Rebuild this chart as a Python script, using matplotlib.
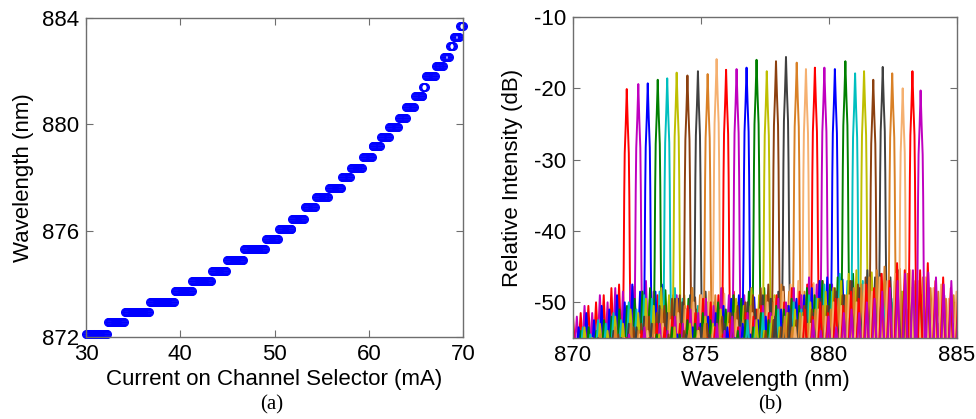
import numpy as np
import matplotlib
matplotlib.use('Agg')
import matplotlib.pyplot as plt

plt.rcParams['font.family'] = ['Liberation Sans', 'DejaVu Sans']
plt.rcParams['axes.unicode_minus'] = False

# ---- (a) channel selector tuning: plateau start current (mA) and wavelength (nm)
step_start_ma = [30.0, 32.3, 34.1, 36.8, 39.4, 41.3, 43.4, 45.0, 46.8, 49.1,
                 50.5, 51.9, 53.2, 54.4, 55.8, 57.2, 58.1, 59.35, 60.4, 61.3,
                 62.2, 63.2, 64.0, 64.9, 65.8, 66.1, 67.1, 67.95, 68.6, 69.0, 69.65]
step_nm = [872.13, 872.57, 872.95, 873.32, 873.72, 874.10, 874.50, 874.90, 875.30, 875.70,
           876.06, 876.45, 876.88, 877.27, 877.62, 878.02, 878.37, 878.78, 879.18, 879.52,
           879.90, 880.22, 880.66, 881.08, 881.42, 881.80, 882.20, 882.55, 882.93, 883.30, 883.70]
current_step_ma = 0.1   # measurement grid

# ---- (b) spectra: one trace per channel
peak_nm = [872.10, 872.55, 872.92, 873.31, 873.68, 874.05, 874.47, 874.88, 875.26, 875.61,
           875.98, 876.39, 876.78, 877.17, 877.57, 877.93, 878.32, 878.74, 879.10, 879.45,
           879.82, 880.23, 880.64, 881.02, 881.37, 881.73, 882.10, 882.47, 882.88, 883.26, 883.58]
peak_db = [-20.1, -19.4, -19.3, -18.8, -18.6, -17.8, -18.2, -17.6, -18.0, -15.9,
           -17.4, -17.3, -17.1, -16.0, -17.6, -16.2, -15.6, -16.4, -17.3, -17.1,
           -17.1, -17.3, -16.2, -17.9, -17.6, -18.8, -17.0, -17.9, -20.0, -17.6, -20.3]
floor_db = [-47.5, -47.0, -47.5, -48.0, -48.0, -48.0, -49.0, -48.5, -48.0, -48.5,
            -48.5, -48.0, -49.0, -48.0, -48.0, -47.5, -48.0, -47.5, -47.0, -47.0,
            -46.5, -46.5, -46.0, -46.0, -45.5, -46.0, -45.5, -45.0, -45.5, -44.5, -45.5]
trace_colors = ['r', 'm', 'b', 'g', 'c', 'y', 'br', 'k', 'o', 'p',
                'r', 'm', 'b', 'g', 'y', 'br', 'k', 'o', 'p',
                'r', 'm', 'b', 'g', 'c', 'y', 'br', 'k', 'o', 'p', 'r', 'm']
palette = {'r': '#FF0000', 'm': '#BF00BF', 'b': '#0000FF', 'g': '#008000',
           'c': '#00BFBF', 'y': '#BFBF00', 'br': '#8C400F', 'k': '#404040',
           'o': '#D98026', 'p': '#F5B070'}

# lasing line shape: offset from peak (nm) vs drop below peak (dB)
line_off = [-0.17, -0.14, -0.12, -0.10, -0.08, -0.04, -0.015, 0.0,
            0.015, 0.04, 0.08, 0.10, 0.12, 0.14, 0.17]
line_drop = [38, 32, 25, 15, 9, 5, 2, 0, 2, 5, 9, 15, 25, 32, 38]

# side modes: offset from peak (nm) and drop below channel floor (dB), three patterns
side_off = [-4.2, -3.9, -3.6, -3.3, -3.0, -2.7, -2.4, -2.1, -1.8, -1.5, -1.2, -0.9, -0.6, -0.3,
            0.3, 0.6, 0.9, 1.2, 1.5, 1.8, 2.1, 2.4, 2.7, 3.0, 3.3, 3.6, 3.9, 4.2]
side_drop = [
    [7.0, 8.5, 6.5, 8.0, 6.0, 5.5, 6.0, 4.5, 4.0, 3.0, 2.5, 1.5, 0.5, 0.0,
     0.3, 1.0, 2.0, 1.5, 3.0, 3.5, 4.5, 4.0, 5.5, 5.0, 6.5, 7.5, 6.5, 8.0],
    [8.0, 6.5, 7.5, 5.5, 6.5, 4.5, 5.0, 3.5, 4.5, 2.0, 3.0, 1.0, 1.5, 0.5,
     0.0, 1.5, 1.0, 2.5, 2.0, 4.0, 3.0, 5.0, 4.5, 6.5, 5.5, 7.0, 8.5, 7.0],
    [6.5, 7.5, 5.5, 7.0, 5.0, 6.0, 4.0, 5.0, 3.0, 3.5, 1.5, 2.5, 0.0, 1.0,
     1.0, 0.0, 2.5, 2.0, 3.5, 2.5, 5.0, 3.5, 6.0, 5.0, 7.0, 6.0, 8.0, 7.5],
]
side_halfwidth = 0.11
trough_db = -58.0


def style_axes(ax):
    for s in ax.spines.values():
        s.set_color('#6e6e6e')
        s.set_linewidth(1.0)
    ax.tick_params(direction='in', length=5, width=0.8, color='#6e6e6e',
                   top=True, right=True, labelsize=16, pad=5)


fig = plt.figure(figsize=(9.76, 4.19), dpi=100)

# ---------------- (a)
ax1 = fig.add_axes([0.0881, 0.1957, 0.3863, 0.7613])
current = np.arange(30.0, 70.0 + current_step_ma / 2, current_step_ma)
idx = np.searchsorted(step_start_ma, current, side='right') - 1
wl = np.array(step_nm)[idx]
ax1.plot(current, wl, 'o', ms=5.5, mfc='none', mec='#0000FF', mew=1.0, clip_on=False)
ax1.set_xlim(30, 70)
ax1.set_ylim(872, 884)
ax1.set_xticks([30, 40, 50, 60, 70])
ax1.set_yticks([872, 876, 880, 884])
ax1.set_xlabel('Current on Channel Selector (mA)', fontsize=16, labelpad=3)
ax1.set_ylabel('Wavelength (nm)', fontsize=16, labelpad=6)
style_axes(ax1)

# ---------------- (b)
ax2 = fig.add_axes([0.5871, 0.1933, 0.3934, 0.7661])
for i, c in enumerate(peak_nm):
    xs, ys = [], []
    pat = side_drop[i % 3]
    # side modes left of the lasing line
    for o, d in zip(side_off, pat):
        if o < 0:
            lev = floor_db[i] - d
            xs += [c + o - side_halfwidth, c + o, c + o + side_halfwidth]
            ys += [trough_db, lev, trough_db]
    # lasing line
    for o, d in zip(line_off, line_drop):
        xs.append(c + o)
        ys.append(peak_db[i] - d)
    # side modes right of it
    for o, d in zip(side_off, pat):
        if o > 0:
            lev = floor_db[i] - d
            xs += [c + o - side_halfwidth, c + o, c + o + side_halfwidth]
            ys += [trough_db, lev, trough_db]
    ax2.plot(xs, ys, color=palette[trace_colors[i]], lw=1.4)
ax2.set_xlim(870, 885)
ax2.set_ylim(-55, -10)
ax2.set_xticks([870, 875, 880, 885])
ax2.set_yticks([-50, -40, -30, -20, -10])
ax2.set_xlabel('Wavelength (nm)', fontsize=16, labelpad=3)
ax2.set_ylabel('Relative Intensity (dB)', fontsize=16, labelpad=8)
style_axes(ax2)

fig.text(272 / 976, 1 - 405 / 419, '(a)', ha='center', va='center',
         fontsize=15, family=['Liberation Serif', 'DejaVu Serif'])
fig.text(770 / 976, 1 - 405 / 419, '(b)', ha='center', va='center',
         fontsize=15, family=['Liberation Serif', 'DejaVu Serif'])

fig.savefig('out.png', dpi=100)
